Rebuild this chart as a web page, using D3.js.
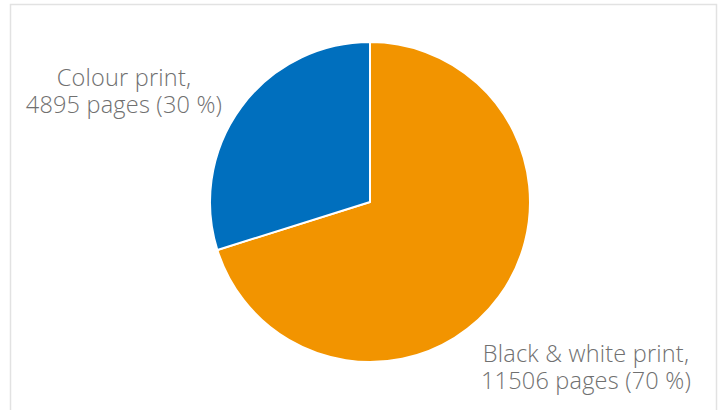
<!DOCTYPE html>
<html>
<head>
<meta charset="utf-8">
<script src="https://cdn.jsdelivr.net/npm/d3@7"></script>
<style>
  html, body { margin: 0; padding: 0; background: #fff; }
  svg { display: block; }
  .lbl { font-family: "Open Sans", sans-serif; font-weight: 300; font-size: 23.5px; letter-spacing: 0.2px; fill: #707070; }
</style>
</head>
<body>
<svg id="chart" width="723" height="410"></svg>
<script>
// Print volume by type
const categories = ["Black & white print", "Colour print"];
const pages = [11506, 4895];
const percents = [70, 30];
const colors = ["#F29400", "#006FBE"];

const W = 723, H = 410;
const cx = 370, cy = 202, R = 160;

const svg = d3.select("#chart");

// frame
svg.append("path")
  .attr("d", `M10.5,${H} V4.5 H716.5 V${H}`)
  .attr("fill", "none")
  .attr("stroke", "#e2e2e2")
  .attr("stroke-width", 1.5);

const data = categories.map((c, i) => ({ cat: c, value: pages[i], pct: percents[i], color: colors[i] }));

const pie = d3.pie().value(d => d.value).sort(null);
const arc = d3.arc().innerRadius(0).outerRadius(R);

const g = svg.append("g").attr("transform", `translate(${cx},${cy})`);
g.selectAll("path")
  .data(pie(data))
  .join("path")
  .attr("d", arc)
  .attr("fill", d => d.data.color)
  .attr("stroke", "#fff")
  .attr("stroke-width", 2)
  .attr("stroke-linejoin", "round");

// data labels
const labelPos = [
  { x: 586, y: 362 },
  { x: 124, y: 86 }
];
data.forEach((d, i) => {
  const t = svg.append("text")
    .attr("class", "lbl")
    .attr("text-anchor", "middle")
    .attr("x", labelPos[i].x)
    .attr("y", labelPos[i].y);
  t.append("tspan").attr("x", labelPos[i].x).text(`${d.cat},`);
  t.append("tspan").attr("x", labelPos[i].x).attr("dy", 27)
    .text(`${d.value} pages (${d.pct} %)`);
});
</script>
</body>
</html>
